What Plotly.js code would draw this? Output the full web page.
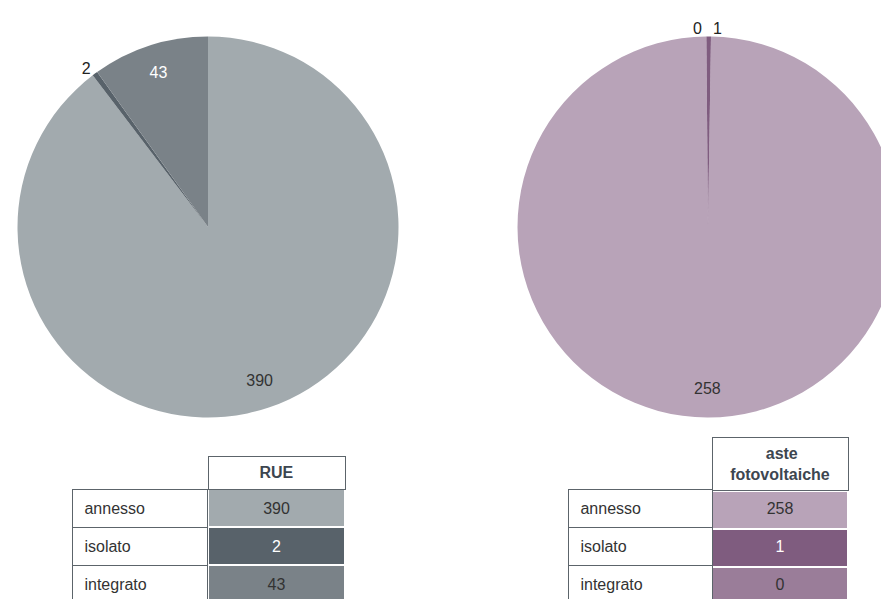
<!DOCTYPE html>
<html>
<head>
<meta charset="utf-8">
<script src="https://cdn.plot.ly/plotly-3.0.1.min.js"></script>
<style>
html, body { margin: 0; padding: 0; overflow: hidden; background: #fff; width: 881px; height: 599px; }
#chart { width: 920px; height: 620px; }
</style>
</head>
<body>
<div id="chart"></div>
<script>
// ---- data ----
var categories = ['annesso', 'isolato', 'integrato'];
var seriesNames = ['RUE', 'aste<br>fotovoltaiche'];
var rueValues = [390, 2, 43];
var asteValues = [258, 1, 0];

var rueColors = ['#a2aaae', '#58626a', '#7a8288'];
var asteColors = ['#b8a3b8', '#7f5c7f', '#9a7d99'];

var W = 920, H = 620;
function px(x) { return x / W; }
function py(y) { return (H - y) / H; }

var fontFam = 'Arial, "Liberation Sans", sans-serif';
var border = '#5c646a';
var FS = 16;
var CLEAR = 'rgba(0,0,0,0)';

// centre each line of a multi-line header (Plotly left-aligns lines inside the block)
function centerLines(text) {
  var parts = text.split('<br>');
  if (parts.length < 2) return '<b>' + text + '</b>';
  var ctx = document.createElement('canvas').getContext('2d');
  ctx.font = 'bold ' + FS + 'px "Liberation Sans", Arial, sans-serif';
  var ws = parts.map(function (p) { return ctx.measureText(p).width; });
  var mx = Math.max.apply(null, ws);
  var sp = ctx.measureText('\u00a0').width || 4.4;
  return parts.map(function (p, i) {
    var n = Math.round((mx - ws[i]) / 2 / sp);
    return '<b>' + new Array(n + 1).join('\u00a0') + p + '</b>';
  }).join('<br>');
}

var traces = [];

function pieTraces(values, colors, txtColors, positions, dom, direction, rotation) {
  var base = {
    type: 'pie', labels: categories, values: values, sort: false,
    direction: direction, rotation: rotation,
    textinfo: 'none', hoverinfo: 'label+value',
    marker: { colors: colors, line: { width: 0 } },
    domain: dom, showlegend: false
  };
  // transparent ring carrying the value labels near the rim
  var lab = {
    type: 'pie', labels: categories, values: values, sort: false,
    direction: direction, rotation: rotation, hole: 0.7,
    textinfo: 'value', hoverinfo: 'skip',
    textposition: positions, insidetextorientation: 'horizontal',
    textfont: { family: fontFam, size: FS, color: txtColors },
    marker: { colors: [CLEAR, CLEAR, CLEAR], line: { width: 0 } },
    domain: dom, showlegend: false
  };
  return [base, lab];
}

var domL = { x: [px(17.5), px(398.5)], y: [py(417.5), py(36.5)] };
var domR = { x: [px(517.5), px(898.5)], y: [py(417.5), py(36.5)] };

traces = traces.concat(pieTraces(rueValues, rueColors, ['#333333', '#222222', '#ffffff'],
  ['inside', 'outside', 'inside'], domL, 'clockwise', 0));
traces = traces.concat(pieTraces(asteValues, asteColors, ['#333333', '#222222', '#222222'],
  ['inside', 'outside', 'outside'], domR, 'counterclockwise', 0.9));

var ROWH = 38;
var blanks = categories.map(function () { return ''; });

// cell grid: value column (fills + header) and label column (bordered)
function gridTables(name, colors, xL, xM, xR, yTop, headH) {
  var valueCol = {
    type: 'table',
    domain: { x: [px(xM), px(xR)], y: [0, py(yTop)] },
    header: {
      values: [centerLines(name)],
      height: headH, align: 'center',
      fill: { color: '#ffffff' },
      line: { color: border, width: 1 },
      font: { family: fontFam, size: FS, color: '#3d4650' }
    },
    cells: {
      values: [blanks], height: ROWH,
      fill: { color: [colors] },
      line: { color: '#ffffff', width: 1.5 }
    }
  };
  var labelCol = {
    type: 'table',
    domain: { x: [px(xL), px(xM)], y: [0, py(yTop)] },
    header: {
      values: [''], height: headH,
      fill: { color: CLEAR }, line: { color: CLEAR, width: 0 }
    },
    cells: {
      values: [blanks], height: ROWH,
      fill: { color: '#ffffff' },
      line: { color: border, width: 1 }
    }
  };
  return [valueCol, labelCol];
}

// text layer, nudged down to centre the text in each row
function textTable(values, txtColors, xL, xM, xR, yTop, headH) {
  var nudge = 5;
  return {
    type: 'table',
    domain: { x: [px(xL), px(xR)], y: [0, py(yTop + nudge)] },
    columnwidth: [xM - xL, xR - xM],
    header: {
      values: ['', ''], height: headH,
      fill: { color: CLEAR }, line: { color: CLEAR, width: 0 }
    },
    cells: {
      values: [categories, values], height: ROWH,
      prefix: ['\u00a0', ''],
      align: ['left', 'center'],
      fill: { color: CLEAR }, line: { color: CLEAR, width: 0 },
      font: { family: fontFam, size: FS, color: [['#333333', '#333333', '#333333'], txtColors] }
    }
  };
}

traces = traces.concat(gridTables(seriesNames[0], rueColors, 72, 208, 345, 456, 33));
traces.push(textTable(rueValues, ['#333333', '#ffffff', '#333333'], 72, 208, 345, 456, 33));
traces = traces.concat(gridTables(seriesNames[1], asteColors, 568, 712, 848, 437, 52));
traces.push(textTable(asteValues, ['#333333', '#ffffff', '#333333'], 568, 712, 848, 437, 52));

var layout = {
  width: W, height: H,
  margin: { l: 0, r: 0, t: 0, b: 0 },
  paper_bgcolor: '#ffffff',
  font: { family: fontFam, size: FS, color: '#333333' },
  showlegend: false
};

Plotly.newPlot('chart', traces, layout, { displayModeBar: false, staticPlot: true });
</script>
</body>
</html>
